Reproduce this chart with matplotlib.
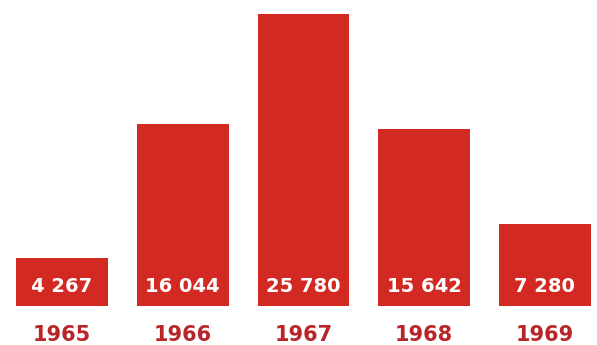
import matplotlib.pyplot as plt

# data
years = ['1965', '1966', '1967', '1968', '1969']
values = [4267, 16044, 25780, 15642, 7280]
value_labels = ['4 267', '16 044', '25 780', '15 642', '7 280']

bar_red = '#d22a22'
text_red = '#b8262a'

fig = plt.figure(figsize=(5.97, 3.45), dpi=100)
ax = fig.add_axes([0, 0, 1, 1])
ax.set_axis_off()

x = list(range(len(years)))
ax.bar(x, values, width=0.76, color=bar_red)

for i in x:
    ax.text(i, 1680, value_labels[i], ha='center', va='center',
            color='white', fontsize=14, fontweight='bold')
    ax.text(i, -2600, years[i], ha='center', va='center',
            color=text_red, fontsize=15, fontweight='bold')

ax.set_xlim(-0.514, 4.432)
ax.set_ylim(-3443, 27020)

fig.savefig('out.png', dpi=100, facecolor='white')
